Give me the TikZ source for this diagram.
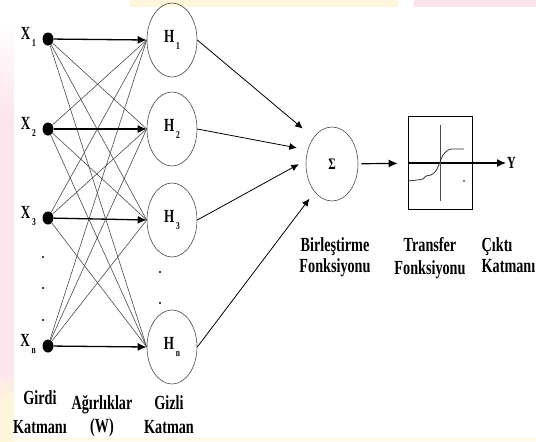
\documentclass[tikz,border=0pt]{standalone}
\usepackage{fontspec}
\setmainfont{Liberation Serif}[FakeStretch=0.71]
\usetikzlibrary{arrows.meta,shapes.geometric,positioning}
\definecolor{linegray}{gray}{0.3}
\definecolor{bgpink}{RGB}{252,228,237}
\definecolor{bgyellow}{RGB}{254,245,218}
\newcommand{\lowidx}[1]{\kern1.8pt\raisebox{-7.5pt}{\fontsize{10.5}{10}\selectfont #1}}

\begin{document}
\begin{tikzpicture}[x=1pt, y=-1pt, >={Latex[length=9pt,width=8pt]},
                    input dot/.style={ellipse,fill=black,inner sep=0pt,minimum width=11pt,minimum height=13pt},
                    small dot/.style={circle,fill=black,inner sep=0pt,minimum size=2.4pt},
                    xlab/.style={font=\fontsize{18.5}{18}\selectfont\bfseries,inner sep=0pt,anchor=base east},
                    hidden node/.style={ellipse,draw=linegray,semithick,minimum width=50pt,minimum height=74pt,
                                        inner sep=0pt,font=\fontsize{18.5}{18}\selectfont\bfseries},
                    weight line/.style={-,linegray,line width=0.6pt},
                    main weight/.style={->,black,line width=1.3pt},
                    out line/.style={->,black,line width=0.8pt,>={Latex[length=7.5pt,width=7pt]}},
                    caption/.style={font=\fontsize{20}{21}\selectfont\bfseries,align=center,inner sep=0pt,anchor=north}]
  % background of the slide
  \useasboundingbox (0,0) rectangle (536,442);
  \fill[white] (0,0) rectangle (536,442);
  \fill[bgyellow] (130,0) rectangle (398,7);
  \fill[bgpink] (414,0) rectangle (536,7);
  \shade[top color=white,bottom color=bgpink] (0,20) rectangle (14,120);
  \fill[bgpink] (0,120) rectangle (14,370);
  \shade[top color=bgpink,bottom color=bgyellow] (0,370) rectangle (14,400);
  \fill[bgyellow] (0,400) rectangle (14,442);
  \fill[bgyellow!50] (14,437) rectangle (536,442);

  % input layer
  \node[input dot] (x1) at (48,39) {};
  \node[input dot] (x2) at (48,129) {};
  \node[input dot] (x3) at (48,218) {};
  \node[input dot] (xn) at (48,346) {};
  \node[xlab] (lx1) at ([xshift=-12pt]x1.center) {X\lowidx{1}};
  \node[xlab] (lx2) at ([xshift=-12pt]x2.center) {X\lowidx{2}};
  \node[xlab] (lx3) at ([xshift=-12pt]x3.center) {X\lowidx{3}};
  \node[xlab] (lxn) at ([xshift=-12pt]xn.center) {X\lowidx{n}};
  \node[small dot] (dx1) at (43,257) {};
  \node[small dot] (dx2) at (43,288) {};
  \node[small dot] (dx3) at (43,320) {};

  % hidden layer
  \node[hidden node] (h1) at (172,40) {H\lowidx{1}};
  \node[hidden node] (h2) at (172,129) {H\lowidx{2}};
  \node[hidden node] (h3) at (172,220) {H\lowidx{3}};
  \node[hidden node] (hn) at (172,347) {H\lowidx{n}};
  \node[small dot] (dh1) at (160,272) {};
  \node[small dot] (dh2) at (160,303) {};

  % weights
  \path[weight line]
    (x1) edge (h2.west)
    (x1) edge (h3.west)
    (x1) edge (hn.west)
    (x2) edge (h1.west)
    (x2) edge (h3.west)
    (x2) edge (hn.west)
    (x3) edge (h1.west)
    (x3) edge (h2.west)
    (x3) edge (hn.west)
    (xn) edge (h1.west)
    (xn) edge (h2.west)
    (xn) edge (h3.west);
  \path[main weight]
    (x1) edge (h1.west)
    (x2) edge (h2.west)
    (x3) edge (h3.west)
    (xn) edge (hn.west);

  % summation and transfer
  \node[ellipse,draw=linegray,semithick,minimum width=52pt,minimum height=74pt,
        font=\fontsize{16}{16}\selectfont\bfseries] (sum) at (332,164) {Σ};
  \node[rectangle,draw=black,line width=0.8pt,minimum width=64pt,minimum height=93pt] (tf) at (440,163) {};
  \node[anchor=west,inner sep=1pt,font=\fontsize{17}{17}\selectfont\bfseries] (yout) at (506,163) {Y};

  \path[out line]
    (h1.east) edge[shorten >=14pt] (sum.125)
    (h2.east) edge[shorten >=11pt] (sum.150)
    (h3.east) edge[shorten >=8pt] (sum.172)
    (hn.east) edge[shorten >=8.5pt] (sum.238);
  \path[->,black,line width=1.2pt]
    (sum) edge[shorten <=3pt,shorten >=10pt] (tf)
    (tf.west) edge (yout.west);
  \draw[linegray,line width=0.9pt,shorten <=9pt,shorten >=9pt] (tf.north) -- (tf.south);
  \draw[black!80,line width=0.8pt] plot[smooth,tension=0.4] coordinates
    {(408,181) (417,180) (423,179) (426,176) (431,175) (434,173) (437,169) (440,162)
     (443,155) (447,151) (451,149) (464,149)};
  \node[small dot,minimum size=1.6pt] (tfdot) at (464,181) {};

  % captions
  \node[caption] (cin) at (40,390) {Girdi\\[8pt]Katmanı};
  \node[caption] (cw) at (102,395) {Ağırlıklar\\[2pt](W)};
  \node[caption] (chid) at (169,395) {Gizli\\[3pt]Katman};
  \node[caption] (csum) at (335,237) {Birleştirme\\Fonksiyonu};
  \node[caption] (ctf) at (430,237) {Transfer\\[2pt]Fonksiyonu};
  \node[caption,align=left,anchor=north east] (cout) at (535.5,237) {Çıktı\\Katmanı};
\end{tikzpicture}
\end{document}
